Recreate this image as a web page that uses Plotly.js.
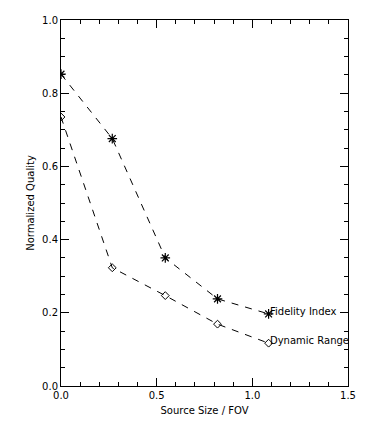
<!DOCTYPE html>
<html><head><meta charset="utf-8">
<script src="https://cdn.plot.ly/plotly-3.0.1.min.js"></script>
<style>html,body{margin:0;padding:0;background:#fff}#plot{width:366px;height:430px}</style>
</head><body><div id="plot"></div>
<script>
const sourceSize = [0.0, 0.268, 0.545, 0.818, 1.085];
const fidelityIndex = [0.852, 0.676, 0.350, 0.238, 0.197];
const dynamicRange = [0.735, 0.323, 0.247, 0.169, 0.117];
const seriesNames = ["Fidelity Index", "Dynamic Range"];
const xTickVals = [0.0, 0.5, 1.0, 1.5];
const xTickText = ["0.0", "0.5", "1.0", "1.5"];
const yTickVals = [0.0, 0.2, 0.4, 0.6, 0.8, 1.0];
const yTickText = ["0.0", "0.2", "0.4", "0.6", "0.8", "1.0"];

const fnt = {family: "DejaVu Sans, Arial, sans-serif", size: 10, color: "#000"};
const traces = [
  {x: sourceSize, y: fidelityIndex, mode: "lines+markers", name: seriesNames[0],
   line: {color: "#000", width: 1, dash: "7px,7px"},
   marker: {symbol: "asterisk-open", size: 8, color: "#000", line: {color: "#000", width: 1.2}}},
  {x: sourceSize, y: dynamicRange, mode: "lines+markers", name: seriesNames[1],
   line: {color: "#000", width: 1, dash: "7px,7px"},
   marker: {symbol: "diamond-open", size: 6, color: "#000", line: {color: "#000", width: 1}}}
];
const last = sourceSize.length - 1;
const annotations = [
  {x: sourceSize[last], y: fidelityIndex[last], text: seriesNames[0]},
  {x: sourceSize[last], y: dynamicRange[last], text: seriesNames[1]}
].map(a => Object.assign(a, {xref: "x", yref: "y", showarrow: false, xanchor: "left", yanchor: "bottom", xshift: -1, yshift: -5, font: fnt}));

const axisCommon = {showline: true, linecolor: "#000", linewidth: 1, mirror: "ticks", ticks: "inside",
  ticklen: 8, tickcolor: "#000", tickwidth: 1, showgrid: false, zeroline: false, tickfont: fnt};
const layout = {
  width: 366, height: 430,
  margin: {l: 61, r: 18, t: 20, b: 44},
  paper_bgcolor: "#fff", plot_bgcolor: "#fff",
  showlegend: false,
  xaxis: Object.assign({}, axisCommon, {range: [0, 1.5], tickmode: "array", tickvals: xTickVals, ticktext: xTickText,
    minor: {dtick: 0.1, tick0: 0, ticks: "inside", ticklen: 4, tickcolor: "#000", showgrid: false},
    title: {text: "Source Size / FOV", font: fnt, standoff: 6}}),
  yaxis: Object.assign({}, axisCommon, {range: [0, 1.0], tickmode: "array", tickvals: yTickVals, ticktext: yTickText,
    minor: {dtick: 0.05, tick0: 0, ticks: "inside", ticklen: 4, tickcolor: "#000", showgrid: false},
    title: {text: "Normalized Quality", font: fnt, standoff: 5}}),
  annotations: annotations
};
Plotly.newPlot("plot", traces, layout, {staticPlot: true, displayModeBar: false});
</script></body></html>
